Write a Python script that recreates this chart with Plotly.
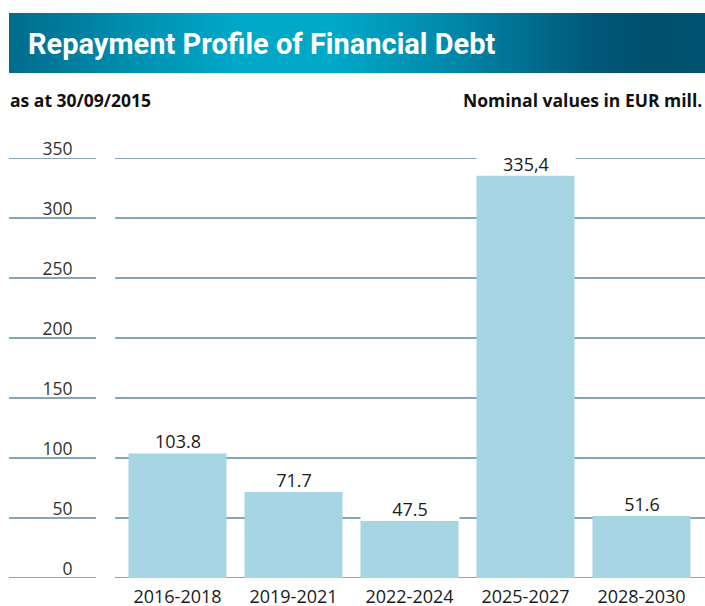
import plotly.graph_objects as go

W, H = 705, 606

categories = ["2016-2018", "2019-2021", "2022-2024", "2025-2027", "2028-2030"]
values = [103.8, 71.7, 47.5, 335.4, 51.6]
value_labels = ["103.8", "71.7", "47.5", "335,4", "51.6"]
y_ticks = [0, 50, 100, 150, 200, 250, 300, 350]

title_text = "Repayment Profile of Financial Debt"
subtitle_left = "as at 30/09/2015"
subtitle_right = "Nominal values in EUR mill."

BAR_COLOR = "#a6d5e4"
GRID_COLOR = "#5a8aa0"
BODY_FONT = "Open Sans, Noto Sans, sans-serif"

fig = go.Figure()

# Title band with horizontal gradient (separate full-page pixel axes)
bx0, bx1, by0, by1 = 9, 705, 13, 73
fig.add_trace(go.Scatter(
    x=[bx0, bx1, bx1, bx0, bx0], y=[by0, by0, by1, by1, by0],
    xaxis="x2", yaxis="y2", mode="lines", line=dict(width=0),
    fill="toself",
    fillgradient=dict(type="horizontal", start=bx0, stop=bx1, colorscale=[
        [0.0, "#006c8c"], [0.18, "#0090b0"], [0.33, "#00a8c8"], [0.47, "#00a8c8"],
        [0.66, "#0082a4"], [0.84, "#005878"], [0.93, "#004f6d"], [1.0, "#005372"]]),
    hoverinfo="skip", showlegend=False,
))

fig.add_trace(go.Bar(
    x=categories, y=values, marker_color=BAR_COLOR, marker_line_width=0,
    hoverinfo="skip", showlegend=False, xaxis="x", yaxis="y",
))

shapes = []
for t in y_ticks:
    for (a, b) in [(9, 96), (115, 705)]:
        shapes.append(dict(type="line", xref="paper", yref="y", x0=a / W, x1=b / W,
                           y0=t, y1=t, line=dict(color=GRID_COLOR, width=1.4), layer="below"))

annotations = []
for c, v, lab in zip(categories, values, value_labels):
    annotations.append(dict(x=c, y=v, xref="x", yref="y", text=lab, showarrow=False,
                            yanchor="bottom", xanchor="center", width=98, height=23,
                            bgcolor="white", borderpad=0,
                            font=dict(family=BODY_FONT, size=18, color="#1a1a1a")))

annotations.append(dict(x=26 / W, y=1 - 44 / H, xref="paper", yref="paper", text=title_text,
                        showarrow=False, xanchor="left", yanchor="middle",
                        font=dict(family="Roboto, Liberation Sans, sans-serif",
                                  size=29, color="white", weight="bold")))
annotations.append(dict(x=8 / W, y=1 - 100 / H, xref="paper", yref="paper", text=subtitle_left,
                        showarrow=False, xanchor="left", yanchor="middle",
                        font=dict(family=BODY_FONT, size=17.5, color="#111111", weight="bold")))
annotations.append(dict(x=704 / W, y=1 - 100 / H, xref="paper", yref="paper", text=subtitle_right,
                        showarrow=False, xanchor="right", yanchor="middle",
                        font=dict(family=BODY_FONT, size=17.5, color="#111111", weight="bold")))

fig.update_layout(
    width=W, height=H, margin=dict(l=0, r=0, t=0, b=0, autoexpand=False),
    paper_bgcolor="white", plot_bgcolor="rgba(0,0,0,0)",
    bargap=0.155, shapes=shapes, annotations=annotations, showlegend=False,
    xaxis=dict(domain=[119.5 / W, 699.5 / W], anchor="y", showgrid=False, zeroline=False,
               showline=False, ticks="", automargin=False,
               tickfont=dict(family=BODY_FONT, size=18, color="#1a1a1a"),
               ticklabelstandoff=6, fixedrange=True),
    yaxis=dict(domain=[28 / H, 448 / H], anchor="x", range=[0, 350], tickvals=y_ticks,
               showgrid=False, zeroline=False, showline=False, ticks="", automargin=False,
               tickfont=dict(family=BODY_FONT, size=17.5, color="#333333"),
               ticklabelshift=-9, ticklabelstandoff=46, fixedrange=True),
    xaxis2=dict(domain=[0, 1], anchor="y2", range=[0, W], visible=False, fixedrange=True),
    yaxis2=dict(domain=[0, 1], anchor="x2", range=[H, 0], visible=False, fixedrange=True),
)

fig.write_html("out.html", config={"displayModeBar": False},
               post_script="document.body.style.margin='0px';")
